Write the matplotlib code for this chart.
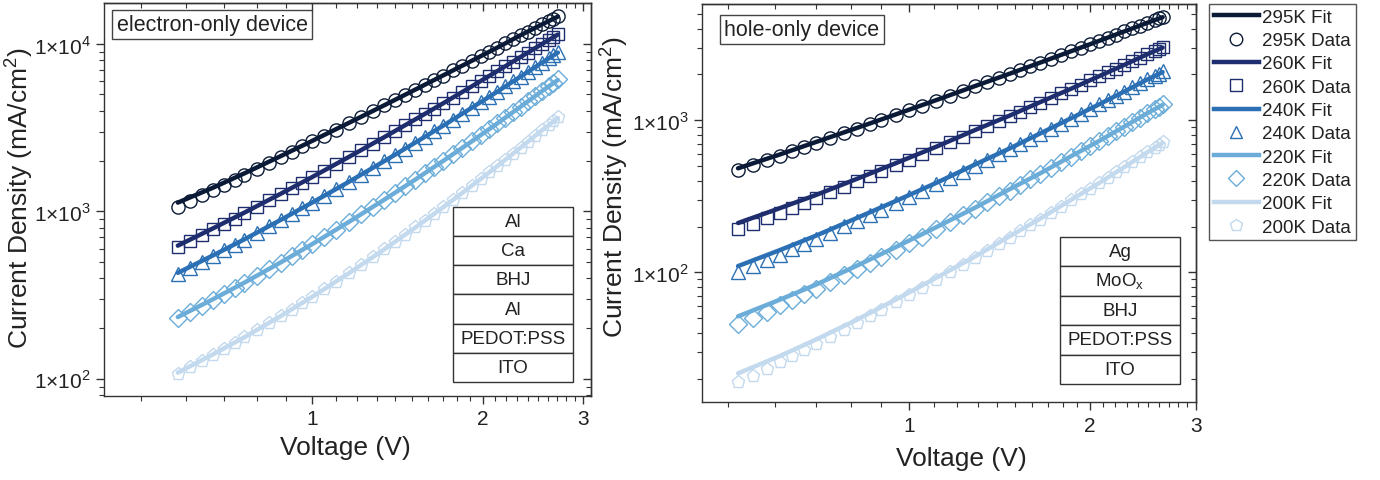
import numpy as np
import matplotlib
matplotlib.use('Agg')
import matplotlib.pyplot as plt
from matplotlib import font_manager
from matplotlib.lines import Line2D
from matplotlib.patches import Rectangle
from matplotlib.ticker import FixedLocator, FuncFormatter, NullFormatter, LogLocator

plt.rcParams['font.family'] = ['Liberation Sans', 'DejaVu Sans']
plt.rcParams['mathtext.fontset'] = 'custom'
plt.rcParams['mathtext.rm'] = 'Liberation Sans'

temps = ['295K', '260K', '240K', '220K', '200K']
colors = ['#0b1a36', '#1e2d6e', '#2b70b4', '#6badd8', '#c3d9ee']
markers = ['o', 's', '^', 'D', 'p']
msizes = [9.5, 9, 9.5, 9, 9.5]

# ---- electron-only device (left) ----
v_el = [0.58, 0.61, 0.64, 0.67, 0.70, 0.73, 0.76, 0.80, 0.84, 0.88, 0.92, 0.96, 1.00,
        1.05, 1.10, 1.16, 1.22, 1.28, 1.34, 1.40, 1.46, 1.52, 1.58, 1.64, 1.70, 1.77,
        1.84, 1.91, 1.98, 2.05, 2.12, 2.19, 2.26, 2.33, 2.40, 2.47, 2.54, 2.61, 2.66, 2.71]
j_el_295 = [1060, 1150, 1250, 1340, 1440, 1550, 1650, 1800, 1960, 2110, 2280, 2450, 2620,
            2840, 3080, 3370, 3670, 3980, 4310, 4640, 4990, 5350, 5720, 6100, 6490, 6960,
            7440, 7940, 8460, 8990, 9530, 10100, 10700, 11300, 11850, 12470, 13100, 13740,
            14210, 14690]
j_el_260 = [610, 664, 722, 782, 844, 908, 975, 1069, 1166, 1268, 1375, 1487, 1602, 1754,
            1913, 2114, 2325, 2547, 2781, 3026, 3282, 3550, 3830, 4121, 4423, 4796, 5182,
            5585, 6007, 6446, 6900, 7373, 7866, 8379, 8906, 9456, 10020, 10610, 11040, 11480]
j_el_240 = [421, 459, 499, 541, 585, 630, 677, 744, 814, 887, 964, 1044, 1128, 1238, 1355,
            1502, 1659, 1824, 1999, 2184, 2378, 2580, 2796, 3019, 3253, 3542, 3843, 4160,
            4493, 4842, 5204, 5585, 5983, 6397, 6827, 7275, 7742, 8227, 8584, 8951]
j_el_220 = [229.6, 250.7, 273.1, 296.5, 321.0, 346.8, 373.8, 411.8, 452.0, 494.7, 540.0,
            587.5, 637.6, 703.9, 774.5, 865, 962, 1065, 1176, 1294, 1420, 1552, 1694, 1842,
            2000, 2194, 2401, 2621, 2854, 3101, 3360, 3634, 3924, 4229, 4549, 4884, 5236,
            5606, 5882, 6166]
j_el_200 = [107.2, 117.2, 127.8, 139.1, 150.9, 163.4, 176.7, 195.3, 215.4, 236.7, 259.3,
            283.5, 309.1, 343.3, 380.0, 427.6, 479.0, 534.6, 594.6, 659.0, 728.3, 802.4,
            882.2, 966.7, 1057, 1171, 1292, 1422, 1562, 1711, 1868, 2038, 2217, 2410, 2612,
            2828, 3054, 3294, 3477, 3664]

v_el_fit = [0.58, 0.67, 0.76, 0.88, 1.00, 1.16, 1.34, 1.52, 1.70, 1.91, 2.12, 2.33, 2.54, 2.71]
fit_el_295 = [1130, 1390, 1690, 2140, 2640, 3380, 4310, 5350, 6490, 7940, 9530, 11300, 13100, 14600]
fit_el_260 = [625, 795, 985, 1275, 1605, 2115, 2780, 3550, 4420, 5585, 6900, 8380, 10000, 11400]
fit_el_240 = [430, 548, 682, 890, 1130, 1502, 1999, 2580, 3250, 4160, 5200, 6400, 7740, 8900]
fit_el_220 = [234, 300, 376, 496, 638, 865, 1176, 1552, 2000, 2620, 3360, 4230, 5236, 6100]
fit_el_200 = [109, 140.5, 177.5, 237, 309, 427, 594, 802, 1057, 1422, 1868, 2410, 3054, 3620]

# ---- hole-only device (right) ----
v_ho = [0.52, 0.55, 0.58, 0.61, 0.64, 0.67, 0.70, 0.74, 0.78, 0.82, 0.86, 0.90, 0.95, 1.00,
        1.05, 1.11, 1.17, 1.23, 1.29, 1.35, 1.41, 1.47, 1.53, 1.59, 1.65, 1.72, 1.79, 1.86,
        1.93, 2.00, 2.07, 2.14, 2.21, 2.28, 2.35, 2.42, 2.49, 2.56, 2.60, 2.64]
j_ho_295 = [468.8, 506.1, 543.9, 582.9, 622.7, 663.1, 704.4, 760.5, 818.5, 877.4, 938.0,
            999.5, 1078, 1160, 1243, 1344, 1450, 1557, 1667, 1779, 1895, 2012, 2132, 2255,
            2379, 2527, 2681, 2835, 2993, 3153, 3319, 3485, 3656, 3828, 4005, 4184, 4366,
            4549, 4658, 4764]
j_ho_260 = [191.9, 209.4, 227.6, 246.5, 266.0, 286.2, 307.0, 335.7, 365.7, 396.6, 428.9,
            462.2, 505.5, 550.6, 597.5, 656, 717, 780.7, 846.8, 915.7, 987, 1061, 1137, 1216,
            1298, 1396, 1498, 1604, 1713, 1825, 1942, 2061, 2185, 2311, 2442, 2575, 2713,
            2854, 2937, 3020]
j_ho_240 = [100, 109.8, 120, 130.7, 141.9, 153.6, 165.7, 182.5, 200.2, 218.8, 238.1, 258.4,
            285, 313, 342.1, 379.2, 418.3, 459.4, 502.7, 548.1, 595.7, 645.3, 697.3, 751.6,
            808.2, 876.8, 948.9, 1024, 1102, 1184, 1269, 1357, 1449, 1543, 1642, 1745, 1851,
            1960, 2024, 2089]
j_ho_220 = [45.5, 50.3, 55.3, 60.6, 66.2, 72.0, 78.2, 86.8, 95.9, 105.5, 115.7, 126.4,
            140.7, 155.8, 171.8, 192.2, 214, 237.2, 261.9, 288, 315.7, 344.9, 375.7, 407.8,
            441.9, 483.9, 528.2, 574.5, 624, 675.1, 729.5, 786.1, 845.8, 907.7, 973.2, 1041,
            1112, 1185, 1229, 1273]
j_ho_200 = [18.9, 21.0, 23.2, 25.6, 28.2, 30.9, 33.7, 37.7, 42.0, 46.6, 51.5, 56.7, 63.6,
            71.1, 79.0, 89.3, 100.4, 112.4, 125.2, 138.9, 153.6, 169.2, 185.9, 203.6, 222.4,
            245.6, 270.6, 296.8, 325, 354.6, 386.4, 419.6, 454.9, 492, 531.5, 572.5, 615.9,
            661.3, 688.4, 716.1]

v_ho_fit = [0.52, 0.61, 0.70, 0.82, 0.95, 1.11, 1.29, 1.47, 1.65, 1.86, 2.07, 2.28, 2.49, 2.64]
fit_ho_295 = [483, 595, 718, 890, 1090, 1355, 1680, 2020, 2385, 2840, 3320, 3830, 4366, 4750]
fit_ho_260 = [211, 264, 322, 412, 521, 669, 864, 1072, 1311, 1610, 1945, 2311, 2713, 3000]
fit_ho_240 = [110, 140, 174, 228, 294, 387, 513, 652, 816, 1030, 1270, 1543, 1851, 2070]
fit_ho_220 = [51.4, 66.1, 82.9, 110.8, 146.3, 198, 267, 352, 446, 580, 730, 908, 1112, 1260]
fit_ho_200 = [21.7, 28.2, 36.1, 48.9, 66.1, 92, 127.7, 172.6, 224.6, 299.8, 386.4, 492, 616, 710]

stack_el = ['Al', 'Ca', 'BHJ', 'Al', 'PEDOT:PSS', 'ITO']
stack_ho = ['Ag', 'MoO$_{\\mathregular{x}}$', 'BHJ', 'PEDOT:PSS', 'ITO']

minor_x = [0.5, 0.6, 0.7, 0.8, 0.9, 1.1, 1.2, 1.3, 1.4, 1.5, 1.6, 1.7, 1.8, 1.9,
           2.1, 2.2, 2.3, 2.4, 2.5, 2.6, 2.7, 2.8, 2.9]

edge = '#333333'
txt = '#222222'

# the layer boxes use a condensed face in the original
installed = {f.name for f in font_manager.fontManager.ttflist}
if 'Liberation Sans Narrow' in installed:
    stack_font = dict(family='Liberation Sans Narrow', fontsize=15)
else:
    stack_font = dict(family='Liberation Sans', fontsize=13.5)


def ylab(val, pos):
    e = int(round(np.log10(val)))
    return '1\u00d710$^{\\mathregular{%d}}$' % e


def draw_panel(ax, v, data, v_fit, fits, xlim, ylim):
    for k in range(4, -1, -1):
        ax.plot(v, data[k], ls='none', marker=markers[k], ms=msizes[k], mfc='none',
                mec=colors[k], mew=1.0, zorder=2 + 2 * (4 - k))
        ax.plot(v_fit, fits[k], color=colors[k], lw=3.2, solid_capstyle='round',
                zorder=3 + 2 * (4 - k))
    ax.set_xscale('log')
    ax.set_yscale('log')
    ax.set_xlim(*xlim)
    ax.set_ylim(*ylim)
    ax.xaxis.set_major_locator(FixedLocator([1, 2, 3]))
    ax.xaxis.set_major_formatter(FuncFormatter(lambda x, p: '%d' % round(x)))
    ax.xaxis.set_minor_locator(FixedLocator(minor_x))
    ax.xaxis.set_minor_formatter(NullFormatter())
    ax.yaxis.set_major_locator(LogLocator(base=10))
    ax.yaxis.set_major_formatter(FuncFormatter(ylab))
    ax.yaxis.set_minor_locator(LogLocator(base=10, subs=range(2, 10)))
    ax.yaxis.set_minor_formatter(NullFormatter())
    ax.tick_params(which='both', direction='out', top=False, right=False,
                   labelsize=15, color=edge, labelcolor=txt)
    ax.tick_params(which='major', length=6, width=1)
    ax.tick_params(which='minor', length=3.5, width=0.8)
    for s in ax.spines.values():
        s.set_color(edge)
        s.set_linewidth(1)
    # mirrored ticks pointing inwards on top and right
    top = ax.secondary_xaxis('top')
    top.xaxis.set_major_locator(FixedLocator([1, 2, 3]))
    top.xaxis.set_minor_locator(FixedLocator(minor_x))
    top.xaxis.set_major_formatter(NullFormatter())
    top.xaxis.set_minor_formatter(NullFormatter())
    right = ax.secondary_yaxis('right')
    right.yaxis.set_major_locator(LogLocator(base=10))
    right.yaxis.set_minor_locator(LogLocator(base=10, subs=range(2, 10)))
    right.yaxis.set_major_formatter(NullFormatter())
    right.yaxis.set_minor_formatter(NullFormatter())
    for sec in (top, right):
        sec.tick_params(which='both', direction='in', color=edge)
        sec.tick_params(which='major', length=6, width=1)
        sec.tick_params(which='minor', length=3.5, width=0.8)
        for s in sec.spines.values():
            s.set_color(edge)
            s.set_linewidth(1)
    ax.set_xlabel('Voltage (V)', fontsize=19, color=txt)
    ax.set_ylabel('Current Density (mA/cm$^{\\mathregular{2}}$)', fontsize=19, color=txt)


def draw_stack(ax, layers, x0, x1, y_top, y_bot):
    h = (y_top - y_bot) / len(layers)
    for i, name in enumerate(layers):
        yb = y_top - (i + 1) * h
        ax.add_patch(Rectangle((x0, yb), x1 - x0, h, transform=ax.transAxes,
                               fc='white', ec=edge, lw=1, zorder=20))
        ax.text((x0 + x1) / 2, yb + h / 2, name, transform=ax.transAxes, ha='center',
                va='center', color=txt, zorder=21, **stack_font)


fig = plt.figure(figsize=(13.8, 4.81), dpi=100)
ax_l = fig.add_axes([0.0754, 0.1746, 0.3526, 0.8171])
ax_r = fig.add_axes([0.5087, 0.1615, 0.3580, 0.8281])

draw_panel(ax_l, v_el, [j_el_295, j_el_260, j_el_240, j_el_220, j_el_200],
           v_el_fit, [fit_el_295, fit_el_260, fit_el_240, fit_el_220, fit_el_200],
           (0.43, 3.095), (79, 17600))
draw_panel(ax_r, v_ho, [j_ho_295, j_ho_260, j_ho_240, j_ho_220, j_ho_200],
           v_ho_fit, [fit_ho_295, fit_ho_260, fit_ho_240, fit_ho_220, fit_ho_200],
           (0.453, 3.0), (14.0, 5800))

ax_l.xaxis.set_label_coords(0.495, -0.10)
ax_l.yaxis.set_label_coords(-0.142, 0.506)
ax_r.xaxis.set_label_coords(0.524, -0.11)
ax_r.yaxis.set_label_coords(-0.145, 0.543)

ax_l.text(0.026, 0.972, 'electron-only device', transform=ax_l.transAxes, fontsize=15.5,
          ha='left', va='top', color=txt, zorder=30,
          bbox=dict(boxstyle='square,pad=0.2', fc='white', ec='#444444', lw=1))
ax_r.text(0.045, 0.962, 'hole-only device', transform=ax_r.transAxes, fontsize=15.5,
          ha='left', va='top', color=txt, zorder=30,
          bbox=dict(boxstyle='square,pad=0.2', fc='white', ec='#444444', lw=1))

draw_stack(ax_l, stack_el, 0.717, 0.9636, 0.481, 0.0356)
draw_stack(ax_r, stack_ho, 0.7247, 0.9676, 0.415, 0.046)

handles = []
labels = []
for k in range(5):
    handles.append(Line2D([], [], color=colors[k], lw=3.2))
    labels.append(temps[k] + ' Fit')
    handles.append(Line2D([], [], ls='none', marker=markers[k], ms=msizes[k] - 0.5,
                          mfc='none', mec=colors[k], mew=1.0))
    labels.append(temps[k] + ' Data')
leg = fig.legend(handles, labels, loc='upper left', bbox_to_anchor=(1209 / 1380, 1 - 5 / 481),
                 bbox_transform=fig.transFigure, frameon=True, fancybox=False,
                 edgecolor='#555555', fontsize=13.5, handlelength=2.4, handletextpad=0.2,
                 labelspacing=0.33, borderpad=0.25, borderaxespad=0, framealpha=1)
leg.get_frame().set_linewidth(1)
for t in leg.get_texts():
    t.set_color(txt)

fig.savefig('out.png', dpi=100)
